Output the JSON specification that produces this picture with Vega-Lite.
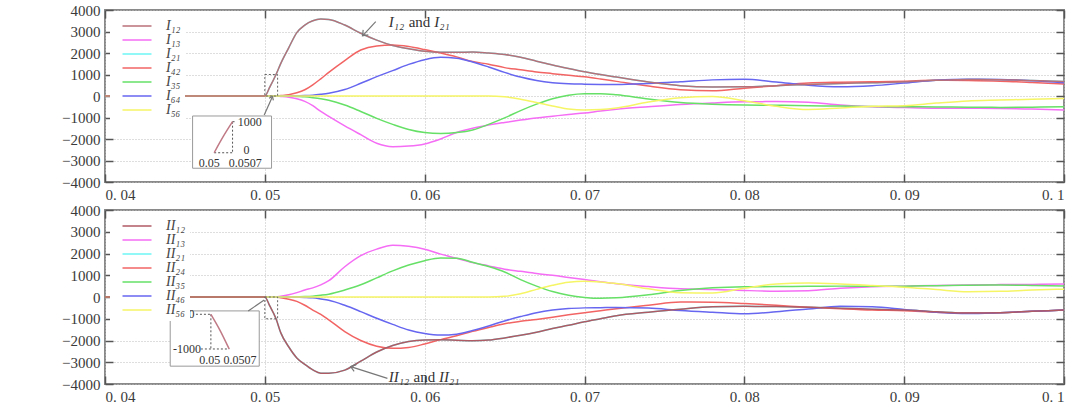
{
  "$schema": "https://vega.github.io/schema/vega-lite/v6.json",
  "padding": {"left": 60, "top": 2, "right": 10, "bottom": 2},
  "background": "white",
  "config": {
    "view": {"stroke": "#8a8a8a", "strokeWidth": 2},
    "font": "Liberation Serif",
    "axis": {
      "domain": false,
      "title": null,
      "labelFont": "Liberation Serif",
      "labelFontSize": 15,
      "labelColor": "#3a3a3a",
      "tickColor": "#555555",
      "tickWidth": 1.5,
      "tickSize": -8,
      "labelPadding": 13,
      "gridColor": "#bdbdbd",
      "gridDash": [1, 2],
      "gridWidth": 1
    },
    "legend": {
      "orient": "top-left",
      "offset": 5,
      "padding": 4,
      "fillColor": "white",
      "labelFont": "Liberation Serif",
      "labelFontStyle": "italic",
      "labelFontSize": 14,
      "labelColor": "#444444",
      "labelOffset": 22,
      "symbolType": "M-2.9,0H2.9",
      "symbolOffset": 16,
      "symbolStrokeWidth": 1.5,
      "symbolSize": 100,
      "symbolFillColor": "transparent",
      "rowPadding": -1
    }
  },
  "datasets": {
    "top": [
      {"t": 0.04, "I12": 0, "I13": 0, "I21": 0, "I42": 0, "I35": 0, "I64": 0, "I56": 0},
      {"t": 0.05, "I12": 0, "I13": 0, "I21": 0, "I42": 0, "I35": 0, "I64": 0, "I56": 0},
      {"t": 0.0503, "I12": 400, "I13": 0, "I21": 400, "I42": 0, "I35": 0, "I64": 0, "I56": 0},
      {"t": 0.0507, "I12": 1000, "I13": 0, "I21": 1000, "I42": 0, "I35": 0, "I64": 0, "I56": 0},
      {"t": 0.051, "I12": 1520, "I13": -20, "I21": 1520, "I42": 20, "I35": 0, "I64": 0, "I56": 0},
      {"t": 0.0515, "I12": 2250, "I13": -60, "I21": 2250, "I42": 60, "I35": 0, "I64": 0, "I56": 0},
      {"t": 0.052, "I12": 2950, "I13": -130, "I21": 2950, "I42": 150, "I35": -20, "I64": 10, "I56": 0},
      {"t": 0.0525, "I12": 3300, "I13": -250, "I21": 3300, "I42": 290, "I35": -40, "I64": 20, "I56": 0},
      {"t": 0.053, "I12": 3500, "I13": -450, "I21": 3500, "I42": 520, "I35": -80, "I64": 40, "I56": 0},
      {"t": 0.0535, "I12": 3580, "I13": -720, "I21": 3580, "I42": 800, "I35": -130, "I64": 80, "I56": 0},
      {"t": 0.054, "I12": 3560, "I13": -950, "I21": 3560, "I42": 1100, "I35": -200, "I64": 130, "I56": 0},
      {"t": 0.055, "I12": 3300, "I13": -1390, "I21": 3300, "I42": 1650, "I35": -420, "I64": 300, "I56": 0},
      {"t": 0.056, "I12": 2920, "I13": -1800, "I21": 2920, "I42": 2140, "I35": -720, "I64": 590, "I56": 0},
      {"t": 0.057, "I12": 2600, "I13": -2200, "I21": 2600, "I42": 2330, "I35": -1040, "I64": 900, "I56": 0},
      {"t": 0.058, "I12": 2350, "I13": -2360, "I21": 2350, "I42": 2370, "I35": -1320, "I64": 1180, "I56": 0},
      {"t": 0.059, "I12": 2200, "I13": -2330, "I21": 2200, "I42": 2300, "I35": -1560, "I64": 1470, "I56": 0},
      {"t": 0.06, "I12": 2080, "I13": -2230, "I21": 2080, "I42": 2160, "I35": -1700, "I64": 1690, "I56": 0},
      {"t": 0.061, "I12": 2030, "I13": -2000, "I21": 2030, "I42": 2000, "I35": -1740, "I64": 1800, "I56": 0},
      {"t": 0.062, "I12": 2030, "I13": -1700, "I21": 2030, "I42": 1820, "I35": -1700, "I64": 1760, "I56": 0},
      {"t": 0.063, "I12": 2050, "I13": -1500, "I21": 2050, "I42": 1600, "I35": -1580, "I64": 1580, "I56": 0},
      {"t": 0.064, "I12": 2000, "I13": -1350, "I21": 2000, "I42": 1480, "I35": -1320, "I64": 1350, "I56": 0},
      {"t": 0.065, "I12": 1930, "I13": -1230, "I21": 1930, "I42": 1320, "I35": -1020, "I64": 1100, "I56": -40},
      {"t": 0.066, "I12": 1800, "I13": -1120, "I21": 1800, "I42": 1220, "I35": -680, "I64": 880, "I56": -150},
      {"t": 0.067, "I12": 1620, "I13": -1020, "I21": 1620, "I42": 1120, "I35": -380, "I64": 720, "I56": -300},
      {"t": 0.068, "I12": 1440, "I13": -940, "I21": 1440, "I42": 1040, "I35": -130, "I64": 620, "I56": -460},
      {"t": 0.069, "I12": 1280, "I13": -860, "I21": 1280, "I42": 960, "I35": 40, "I64": 570, "I56": -600},
      {"t": 0.07, "I12": 1130, "I13": -790, "I21": 1130, "I42": 890, "I35": 110, "I64": 550, "I56": -650},
      {"t": 0.071, "I12": 1000, "I13": -700, "I21": 1000, "I42": 790, "I35": 110, "I64": 540, "I56": -630},
      {"t": 0.072, "I12": 880, "I13": -620, "I21": 880, "I42": 680, "I35": 60, "I64": 530, "I56": -560},
      {"t": 0.074, "I12": 650, "I13": -500, "I21": 650, "I42": 460, "I35": -140, "I64": 580, "I56": -280},
      {"t": 0.076, "I12": 480, "I13": -390, "I21": 480, "I42": 290, "I35": -300, "I64": 660, "I56": -80},
      {"t": 0.078, "I12": 420, "I13": -320, "I21": 420, "I42": 240, "I35": -380, "I64": 750, "I56": -20},
      {"t": 0.08, "I12": 430, "I13": -270, "I21": 430, "I42": 360, "I35": -420, "I64": 780, "I56": -220},
      {"t": 0.082, "I12": 480, "I13": -260, "I21": 480, "I42": 480, "I35": -430, "I64": 650, "I56": -480},
      {"t": 0.084, "I12": 540, "I13": -290, "I21": 540, "I42": 600, "I35": -450, "I64": 500, "I56": -630},
      {"t": 0.086, "I12": 580, "I13": -420, "I21": 580, "I42": 640, "I35": -470, "I64": 430, "I56": -560},
      {"t": 0.088, "I12": 620, "I13": -500, "I21": 620, "I42": 660, "I35": -490, "I64": 480, "I56": -480},
      {"t": 0.09, "I12": 660, "I13": -540, "I21": 660, "I42": 690, "I35": -500, "I64": 600, "I56": -450},
      {"t": 0.092, "I12": 730, "I13": -570, "I21": 730, "I42": 730, "I35": -510, "I64": 730, "I56": -330},
      {"t": 0.094, "I12": 770, "I13": -570, "I21": 770, "I42": 720, "I35": -520, "I64": 780, "I56": -230},
      {"t": 0.096, "I12": 760, "I13": -580, "I21": 760, "I42": 690, "I35": -530, "I64": 770, "I56": -190},
      {"t": 0.098, "I12": 720, "I13": -610, "I21": 720, "I42": 630, "I35": -520, "I64": 710, "I56": -150},
      {"t": 0.1, "I12": 680, "I13": -650, "I21": 680, "I42": 560, "I35": -500, "I64": 620, "I56": -120}
    ],
    "bottom": [
      {"t": 0.04, "II12": 0, "II13": 0, "II21": 0, "II24": 0, "II35": 0, "II46": 0, "II56": 0},
      {"t": 0.05, "II12": 0, "II13": 0, "II21": 0, "II24": 0, "II35": 0, "II46": 0, "II56": 0},
      {"t": 0.0503, "II12": -400, "II13": 0, "II21": -400, "II24": 0, "II35": 0, "II46": 0, "II56": 0},
      {"t": 0.0507, "II12": -1000, "II13": 0, "II21": -1000, "II24": 0, "II35": 0, "II46": 0, "II56": 0},
      {"t": 0.051, "II12": -1650, "II13": 30, "II21": -1650, "II24": -30, "II35": 0, "II46": 0, "II56": 0},
      {"t": 0.0515, "II12": -2300, "II13": 100, "II21": -2300, "II24": -100, "II35": 0, "II46": 0, "II56": 0},
      {"t": 0.052, "II12": -2800, "II13": 200, "II21": -2800, "II24": -200, "II35": 10, "II46": -10, "II56": 0},
      {"t": 0.0525, "II12": -3100, "II13": 320, "II21": -3100, "II24": -380, "II35": 20, "II46": -20, "II56": 0},
      {"t": 0.053, "II12": -3350, "II13": 420, "II21": -3350, "II24": -600, "II35": 40, "II46": -40, "II56": 0},
      {"t": 0.0535, "II12": -3500, "II13": 560, "II21": -3500, "II24": -800, "II35": 80, "II46": -90, "II56": 0},
      {"t": 0.054, "II12": -3500, "II13": 750, "II21": -3500, "II24": -1050, "II35": 130, "II46": -150, "II56": 0},
      {"t": 0.055, "II12": -3360, "II13": 1390, "II21": -3360, "II24": -1590, "II35": 320, "II46": -380, "II56": 0},
      {"t": 0.056, "II12": -2950, "II13": 1900, "II21": -2950, "II24": -2000, "II35": 560, "II46": -670, "II56": 0},
      {"t": 0.057, "II12": -2530, "II13": 2200, "II21": -2530, "II24": -2260, "II35": 880, "II46": -980, "II56": 0},
      {"t": 0.058, "II12": -2230, "II13": 2380, "II21": -2230, "II24": -2360, "II35": 1200, "II46": -1260, "II56": 0},
      {"t": 0.059, "II12": -2050, "II13": 2330, "II21": -2050, "II24": -2320, "II35": 1470, "II46": -1520, "II56": 0},
      {"t": 0.06, "II12": -1980, "II13": 2200, "II21": -1980, "II24": -2160, "II35": 1670, "II46": -1680, "II56": 0},
      {"t": 0.061, "II12": -1970, "II13": 1970, "II21": -1970, "II24": -1960, "II35": 1790, "II46": -1750, "II56": 0},
      {"t": 0.062, "II12": -1990, "II13": 1780, "II21": -1990, "II24": -1780, "II35": 1780, "II46": -1710, "II56": 0},
      {"t": 0.063, "II12": -2010, "II13": 1580, "II21": -2010, "II24": -1580, "II35": 1600, "II46": -1540, "II56": 0},
      {"t": 0.064, "II12": -1980, "II13": 1430, "II21": -1980, "II24": -1400, "II35": 1400, "II46": -1330, "II56": 0},
      {"t": 0.065, "II12": -1880, "II13": 1280, "II21": -1880, "II24": -1230, "II35": 1150, "II46": -1100, "II56": 30},
      {"t": 0.066, "II12": -1760, "II13": 1180, "II21": -1760, "II24": -1120, "II35": 800, "II46": -900, "II56": 150},
      {"t": 0.067, "II12": -1620, "II13": 1080, "II21": -1620, "II24": -1030, "II35": 500, "II46": -720, "II56": 350},
      {"t": 0.068, "II12": -1450, "II13": 1000, "II21": -1450, "II24": -930, "II35": 250, "II46": -600, "II56": 540},
      {"t": 0.069, "II12": -1300, "II13": 900, "II21": -1300, "II24": -820, "II35": 80, "II46": -530, "II56": 680},
      {"t": 0.07, "II12": -1140, "II13": 800, "II21": -1140, "II24": -720, "II35": -20, "II46": -500, "II56": 720},
      {"t": 0.071, "II12": -1000, "II13": 700, "II21": -1000, "II24": -630, "II35": -60, "II46": -490, "II56": 690},
      {"t": 0.072, "II12": -860, "II13": 610, "II21": -860, "II24": -540, "II35": -40, "II46": -480, "II56": 620},
      {"t": 0.074, "II12": -700, "II13": 480, "II21": -700, "II24": -380, "II35": 100, "II46": -510, "II56": 380},
      {"t": 0.076, "II12": -560, "II13": 380, "II21": -560, "II24": -230, "II35": 300, "II46": -620, "II56": 200},
      {"t": 0.078, "II12": -450, "II13": 350, "II21": -450, "II24": -240, "II35": 420, "II46": -700, "II56": 180},
      {"t": 0.08, "II12": -430, "II13": 300, "II21": -430, "II24": -300, "II35": 470, "II46": -770, "II56": 400},
      {"t": 0.082, "II12": -440, "II13": 270, "II21": -440, "II24": -380, "II35": 480, "II46": -680, "II56": 600},
      {"t": 0.084, "II12": -470, "II13": 290, "II21": -470, "II24": -470, "II35": 490, "II46": -550, "II56": 640},
      {"t": 0.086, "II12": -520, "II13": 400, "II21": -520, "II24": -540, "II35": 500, "II46": -430, "II56": 600},
      {"t": 0.088, "II12": -560, "II13": 470, "II21": -560, "II24": -600, "II35": 500, "II46": -450, "II56": 530},
      {"t": 0.09, "II12": -600, "II13": 500, "II21": -600, "II24": -630, "II35": 500, "II46": -570, "II56": 450},
      {"t": 0.092, "II12": -680, "II13": 530, "II21": -680, "II24": -700, "II35": 520, "II46": -700, "II56": 340},
      {"t": 0.094, "II12": -740, "II13": 550, "II21": -740, "II24": -740, "II35": 540, "II46": -760, "II56": 240},
      {"t": 0.096, "II12": -720, "II13": 570, "II21": -720, "II24": -720, "II35": 550, "II46": -720, "II56": 260},
      {"t": 0.098, "II12": -660, "II13": 580, "II21": -660, "II24": -660, "II35": 530, "II46": -660, "II56": 320},
      {"t": 0.1, "II12": -600, "II13": 600, "II21": -600, "II24": -600, "II35": 500, "II46": -600, "II56": 360}
    ],
    "topZoom": [{"t": 0.05, "t2": 0.0508, "v": 0, "v2": 1000}],
    "bottomZoom": [{"t": 0.05, "t2": 0.0508, "v": 0, "v2": -1000}],
    "topInsetBox": [{"t": 0.04548, "t2": 0.05042, "v": -930, "v2": -3360}],
    "bottomInsetBox": [{"t": 0.04408, "t2": 0.04965, "v": -640, "v2": -3180}],
    "topInsetCurve": [{"t": 0.04683, "v": -2640}, {"t": 0.04741, "v": -1870}, {"t": 0.04798, "v": -1195}],
    "bottomInsetCurve": [{"t": 0.046625, "v": -795}, {"t": 0.047188, "v": -1520}, {"t": 0.047769, "v": -2390}],
    "topInsetGuides": [
      {"t": 0.04798, "t2": 0.04798, "v": -1195, "v2": -2640},
      {"t": 0.04683, "t2": 0.04798, "v": -2640, "v2": -2640},
      {"t": 0.04798, "t2": 0.0482, "v": -1195, "v2": -1195}
    ],
    "bottomInsetGuides": [
      {"t": 0.04569, "t2": 0.046625, "v": -795, "v2": -795},
      {"t": 0.046625, "t2": 0.046625, "v": -795, "v2": -2390},
      {"t": 0.046, "t2": 0.047769, "v": -2390, "v2": -2390}
    ],
    "topInsetYLabels": [{"t": 0.0483, "v": -1220, "label": "1000"}, {"t": 0.04866, "v": -2510, "label": "0"}],
    "topInsetXLabels": [{"t": 0.04653, "v": -3100, "label": "0.05"}, {"t": 0.04878, "v": -3100, "label": "0.0507"}],
    "bottomInsetYLabels": [{"t": 0.0456, "v": -795, "label": "0"}, {"t": 0.046, "v": -2390, "label": "-1000"}],
    "bottomInsetXLabels": [{"t": 0.04655, "v": -2900, "label": "0.05"}, {"t": 0.04844, "v": -2900, "label": "0.0507"}],
    "topArrows": [
      {"t": 0.05694, "v": 3460, "t2": 0.05611, "v2": 2800},
      {"t": 0.04996, "v": -880, "t2": 0.05048, "v2": -20}
    ],
    "bottomArrows": [
      {"t": 0.05767, "v": -3740, "t2": 0.05537, "v2": -3200},
      {"t": 0.04896, "v": -644, "t2": 0.04996, "v2": -138}
    ],
    "topNoteItalic": [{"t": 0.05775, "v": 3440, "label": "I₁₂"}, {"t": 0.0606, "v": 3440, "label": "I₂₁"}],
    "topNoteAnd": [{"t": 0.0590, "v": 3440, "label": "and"}],
    "bottomNoteItalic": [{"t": 0.05775, "v": -3660, "label": "II₁₂"}, {"t": 0.0609, "v": -3660, "label": "II₂₁"}],
    "bottomNoteAnd": [{"t": 0.0593, "v": -3660, "label": "and"}]
  },
  "vconcat": [
    {
      "width": 959,
      "height": 172,
      "resolve": {"axis": {"x": "independent", "y": "independent"}},
      "layer": [
        {
          "data": {"name": "top"},
          "transform": [{"fold": ["I21", "I13", "I42", "I35", "I64", "I56", "I12"], "as": ["series", "value"]}],
          "mark": {"type": "line", "strokeWidth": 1.5, "interpolate": "monotone", "clip": true},
          "encoding": {
            "x": {"field": "t", "type": "quantitative",
                  "scale": {"domain": [0.04, 0.1], "nice": false, "zero": false},
                  "axis": {"values": [0.04, 0.05, 0.06, 0.07, 0.08, 0.09, 0.1], "labelExpr": "replace(format(datum.value, '.2~f'), '.', '. ')", "grid": true}},
            "y": {"field": "value", "type": "quantitative",
                  "scale": {"domain": [-4000, 4000], "nice": false},
                  "axis": {"values": [-4000, -3000, -2000, -1000, 0, 1000, 2000, 3000, 4000], "format": "d", "grid": true}},
            "color": {"field": "series", "type": "nominal",
                      "scale": {"domain": ["I12", "I13", "I21", "I42", "I35", "I64", "I56"],
                                "range": ["#b87078", "#f56cf5", "#6cf5f5", "#f26464", "#66e066", "#6666f0", "#f5f566"]},
                      "legend": {"title": null, "labelExpr": "replace(replace(replace(replace(replace(replace(datum.label,'1','₁'),'2','₂'),'3','₃'),'4','₄'),'5','₅'),'6','₆')"}}
          }
        },
        {
          "data": {"name": "topZoom"},
          "mark": {"type": "rect", "fill": null, "fillOpacity": 0, "stroke": "#666666", "strokeWidth": 1, "strokeDash": [2, 2]},
          "encoding": {
            "x": {"field": "t", "type": "quantitative", "axis": {"orient": "top", "values": [0.04, 0.05, 0.06, 0.07, 0.08, 0.09, 0.1], "labels": false, "grid": false}},
            "x2": {"field": "t2"},
            "y": {"field": "v", "type": "quantitative", "axis": {"orient": "right", "values": [-4000, -3000, -2000, -1000, 0, 1000, 2000, 3000, 4000], "labels": false, "grid": false}},
            "y2": {"field": "v2"}
          }
        },
        {
          "data": {"name": "topInsetBox"},
          "mark": {"type": "rect", "fill": "white", "stroke": "#9a9a9a", "strokeWidth": 1},
          "encoding": {"x": {"field": "t", "type": "quantitative", "axis": null}, "x2": {"field": "t2"}, "y": {"field": "v", "type": "quantitative", "axis": null}, "y2": {"field": "v2"}}
        },
        {
          "data": {"name": "topInsetGuides"},
          "mark": {"type": "rule", "stroke": "#555555", "strokeWidth": 1, "strokeDash": [2, 2]},
          "encoding": {"x": {"field": "t", "type": "quantitative", "axis": null}, "x2": {"field": "t2"}, "y": {"field": "v", "type": "quantitative", "axis": null}, "y2": {"field": "v2"}}
        },
        {
          "data": {"name": "topInsetCurve"},
          "mark": {"type": "line", "stroke": "#c07a86", "strokeWidth": 1.5, "interpolate": "monotone"},
          "encoding": {"x": {"field": "t", "type": "quantitative", "axis": null}, "y": {"field": "v", "type": "quantitative", "axis": null}}
        },
        {
          "data": {"name": "topInsetYLabels"},
          "mark": {"type": "text", "align": "left", "baseline": "middle", "font": "Liberation Serif", "fontSize": 12, "color": "#333333"},
          "encoding": {"x": {"field": "t", "type": "quantitative", "axis": null}, "y": {"field": "v", "type": "quantitative", "axis": null}, "text": {"field": "label"}}
        },
        {
          "data": {"name": "topInsetXLabels"},
          "mark": {"type": "text", "align": "center", "baseline": "middle", "font": "Liberation Serif", "fontSize": 12, "color": "#333333"},
          "encoding": {"x": {"field": "t", "type": "quantitative", "axis": null}, "y": {"field": "v", "type": "quantitative", "axis": null}, "text": {"field": "label"}}
        },
        {
          "data": {"name": "topArrows"},
          "mark": {"type": "rule", "stroke": "#777777", "strokeWidth": 1.2},
          "encoding": {"x": {"field": "t", "type": "quantitative", "axis": null}, "y": {"field": "v", "type": "quantitative", "axis": null}, "x2": {"field": "t2"}, "y2": {"field": "v2"}}
        },
        {
          "data": {"name": "topArrows"},
          "transform": [{"filter": "datum.v > 0"}],
          "mark": {"type": "point", "shape": "M-1,-0.75L0,0L-1,0.75", "filled": false, "stroke": "#777777", "strokeWidth": 1.2, "size": 90, "angle": 133.5, "opacity": 1},
          "encoding": {"x": {"field": "t2", "type": "quantitative", "axis": null}, "y": {"field": "v2", "type": "quantitative", "axis": null}}
        },
        {
          "data": {"name": "topArrows"},
          "transform": [{"filter": "datum.v < 0"}],
          "mark": {"type": "point", "shape": "M-1,-0.75L0,0L-1,0.75", "filled": false, "stroke": "#777777", "strokeWidth": 1.2, "size": 40, "angle": 294.3, "opacity": 1},
          "encoding": {"x": {"field": "t2", "type": "quantitative", "axis": null}, "y": {"field": "v2", "type": "quantitative", "axis": null}}
        },
        {
          "data": {"name": "topNoteItalic"},
          "mark": {"type": "text", "align": "left", "baseline": "middle", "font": "Liberation Serif", "fontStyle": "italic", "fontSize": 15, "color": "#333333"},
          "encoding": {"x": {"field": "t", "type": "quantitative", "axis": null}, "y": {"field": "v", "type": "quantitative", "axis": null}, "text": {"field": "label"}}
        },
        {
          "data": {"name": "topNoteAnd"},
          "mark": {"type": "text", "align": "left", "baseline": "middle", "font": "Liberation Serif", "fontSize": 15, "color": "#333333"},
          "encoding": {"x": {"field": "t", "type": "quantitative", "axis": null}, "y": {"field": "v", "type": "quantitative", "axis": null}, "text": {"field": "label"}}
        }
      ]
    },
    {
      "width": 959,
      "height": 174,
      "resolve": {"axis": {"x": "independent", "y": "independent"}},
      "layer": [
        {
          "data": {"name": "bottom"},
          "transform": [{"fold": ["II21", "II13", "II24", "II35", "II46", "II56", "II12"], "as": ["series", "value"]}],
          "mark": {"type": "line", "strokeWidth": 1.5, "interpolate": "monotone", "clip": true},
          "encoding": {
            "x": {"field": "t", "type": "quantitative",
                  "scale": {"domain": [0.04, 0.1], "nice": false, "zero": false},
                  "axis": {"values": [0.04, 0.05, 0.06, 0.07, 0.08, 0.09, 0.1], "labelExpr": "replace(format(datum.value, '.2~f'), '.', '. ')", "grid": true}},
            "y": {"field": "value", "type": "quantitative",
                  "scale": {"domain": [-4000, 4000], "nice": false},
                  "axis": {"values": [-4000, -3000, -2000, -1000, 0, 1000, 2000, 3000, 4000], "format": "d", "grid": true}},
            "color": {"field": "series", "type": "nominal",
                      "scale": {"domain": ["II12", "II13", "II21", "II24", "II35", "II46", "II56"],
                                "range": ["#b05a64", "#f56cf5", "#6cf5f5", "#f26464", "#66e066", "#6666f0", "#f5f566"]},
                      "legend": {"title": null, "labelExpr": "replace(replace(replace(replace(replace(replace(datum.label,'1','₁'),'2','₂'),'3','₃'),'4','₄'),'5','₅'),'6','₆')"}}
          }
        },
        {
          "data": {"name": "bottomZoom"},
          "mark": {"type": "rect", "fill": null, "fillOpacity": 0, "stroke": "#666666", "strokeWidth": 1, "strokeDash": [2, 2]},
          "encoding": {
            "x": {"field": "t", "type": "quantitative", "axis": {"orient": "top", "values": [0.04, 0.05, 0.06, 0.07, 0.08, 0.09, 0.1], "labels": false, "grid": false}},
            "x2": {"field": "t2"},
            "y": {"field": "v", "type": "quantitative", "axis": {"orient": "right", "values": [-4000, -3000, -2000, -1000, 0, 1000, 2000, 3000, 4000], "labels": false, "grid": false}},
            "y2": {"field": "v2"}
          }
        },
        {
          "data": {"name": "bottomInsetBox"},
          "mark": {"type": "rect", "fill": "white", "stroke": "#9a9a9a", "strokeWidth": 1},
          "encoding": {"x": {"field": "t", "type": "quantitative", "axis": null}, "x2": {"field": "t2"}, "y": {"field": "v", "type": "quantitative", "axis": null}, "y2": {"field": "v2"}}
        },
        {
          "data": {"name": "bottomInsetGuides"},
          "mark": {"type": "rule", "stroke": "#555555", "strokeWidth": 1, "strokeDash": [2, 2]},
          "encoding": {"x": {"field": "t", "type": "quantitative", "axis": null}, "x2": {"field": "t2"}, "y": {"field": "v", "type": "quantitative", "axis": null}, "y2": {"field": "v2"}}
        },
        {
          "data": {"name": "bottomInsetCurve"},
          "mark": {"type": "line", "stroke": "#c07a86", "strokeWidth": 1.5, "interpolate": "monotone"},
          "encoding": {"x": {"field": "t", "type": "quantitative", "axis": null}, "y": {"field": "v", "type": "quantitative", "axis": null}}
        },
        {
          "data": {"name": "bottomInsetYLabels"},
          "mark": {"type": "text", "align": "right", "baseline": "middle", "font": "Liberation Serif", "fontSize": 12, "color": "#333333"},
          "encoding": {"x": {"field": "t", "type": "quantitative", "axis": null}, "y": {"field": "v", "type": "quantitative", "axis": null}, "text": {"field": "label"}}
        },
        {
          "data": {"name": "bottomInsetXLabels"},
          "mark": {"type": "text", "align": "center", "baseline": "middle", "font": "Liberation Serif", "fontSize": 12, "color": "#333333"},
          "encoding": {"x": {"field": "t", "type": "quantitative", "axis": null}, "y": {"field": "v", "type": "quantitative", "axis": null}, "text": {"field": "label"}}
        },
        {
          "data": {"name": "bottomArrows"},
          "mark": {"type": "rule", "stroke": "#777777", "strokeWidth": 1.2},
          "encoding": {"x": {"field": "t", "type": "quantitative", "axis": null}, "y": {"field": "v", "type": "quantitative", "axis": null}, "x2": {"field": "t2"}, "y2": {"field": "v2"}}
        },
        {
          "data": {"name": "bottomArrows"},
          "transform": [{"filter": "datum.v < -2000"}],
          "mark": {"type": "point", "shape": "M-1,-0.75L0,0L-1,0.75", "filled": false, "stroke": "#777777", "strokeWidth": 1.2, "size": 90, "angle": 197.5, "opacity": 1},
          "encoding": {"x": {"field": "t2", "type": "quantitative", "axis": null}, "y": {"field": "v2", "type": "quantitative", "axis": null}}
        },
        {
          "data": {"name": "bottomNoteItalic"},
          "mark": {"type": "text", "align": "left", "baseline": "middle", "font": "Liberation Serif", "fontStyle": "italic", "fontSize": 15, "color": "#333333"},
          "encoding": {"x": {"field": "t", "type": "quantitative", "axis": null}, "y": {"field": "v", "type": "quantitative", "axis": null}, "text": {"field": "label"}}
        },
        {
          "data": {"name": "bottomNoteAnd"},
          "mark": {"type": "text", "align": "left", "baseline": "middle", "font": "Liberation Serif", "fontSize": 15, "color": "#333333"},
          "encoding": {"x": {"field": "t", "type": "quantitative", "axis": null}, "y": {"field": "v", "type": "quantitative", "axis": null}, "text": {"field": "label"}}
        }
      ]
    }
  ],
  "bounds": "flush",
  "spacing": 28,
  "resolve": {"scale": {"color": "independent", "x": "independent", "y": "independent"}}
}
